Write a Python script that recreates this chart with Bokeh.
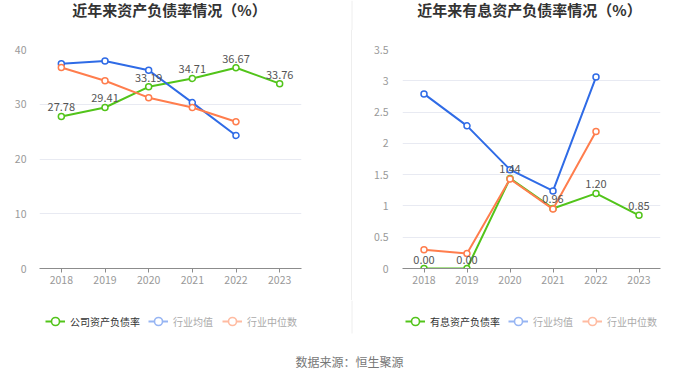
from bokeh.plotting import figure
from bokeh.models import (FactorRange, Range1d, FixedTicker, Legend, LegendItem,
                          ColumnDataSource, Spacer, Label)
from bokeh.layouts import row, column
from bokeh.embed import file_html
from bokeh.resources import INLINE
from bokeh.core.properties import value

FONT = "Noto Sans CJK SC"

years = ["2018", "2019", "2020", "2021", "2022", "2023"]
industry_years = ["2018", "2019", "2020", "2021", "2022"]

# chart 1: 资产负债率
asset_company = [27.78, 29.41, 33.19, 34.71, 36.67, 33.76]
asset_mean = [37.4, 37.9, 36.2, 30.3, 24.3]
asset_median = [36.7, 34.3, 31.2, 29.4, 26.8]
asset_yticks = [0, 10, 20, 30, 40]
asset_ylabels = ["0", "10", "20", "30", "40"]

# chart 2: 有息资产负债率
int_company = [0.00, 0.00, 1.44, 0.96, 1.20, 0.85]
int_mean = [2.79, 2.28, 1.58, 1.24, 3.06]
int_median = [0.30, 0.24, 1.43, 0.95, 2.19]
int_yticks = [0, 0.5, 1, 1.5, 2, 2.5, 3, 3.5]
int_ylabels = ["0", "0.5", "1", "1.5", "2", "2.5", "3", "3.5"]

titles = ["近年来资产负债率情况（%）", "近年来有息资产负债率情况（%）"]
company_names = ["公司资产负债率", "有息资产负债率"]
industry_names = ["行业均值", "行业中位数"]
source_text = "数据来源：恒生聚源"

GREEN = "#52c41a"
BLUE = "#2f6be6"
ORANGE = "#ff7d4d"
BLUE_FADE = "#97b5f3"
ORANGE_FADE = "#ffbba1"
DIVIDER = "#eeeeee"


def make_chart(company, mean, median, yticks, ylabels, width, min_left, min_right,
               label_standoff):
    p = figure(width=width, height=270, x_range=FactorRange(factors=years, range_padding=0),
               y_range=Range1d(yticks[0], yticks[-1]), output_backend="svg",
               toolbar_location=None, min_border_left=min_left, min_border_right=min_right,
               min_border_top=19, min_border_bottom=32)
    p.outline_line_color = None

    p.xgrid.grid_line_color = None
    p.ygrid.grid_line_color = "#e8eaf2"
    p.ygrid.ticker = FixedTicker(ticks=yticks)

    p.yaxis.ticker = FixedTicker(ticks=yticks)
    p.yaxis.major_label_overrides = {t: l for t, l in zip(yticks, ylabels)}
    p.yaxis.axis_line_color = None
    p.yaxis.major_tick_line_color = None
    p.yaxis.minor_tick_line_color = None
    p.yaxis.major_label_text_color = "#999999"
    p.yaxis.major_label_text_font = FONT
    p.yaxis.major_label_text_font_size = "10.5px"
    p.yaxis.major_label_standoff = label_standoff

    p.xaxis.axis_line_color = "#8c8c8c"
    p.xaxis.major_tick_line_color = "#8c8c8c"
    p.xaxis.major_tick_out = 4
    p.xaxis.major_tick_in = 0
    p.xaxis.major_label_text_color = "#999999"
    p.xaxis.major_label_text_font = FONT
    p.xaxis.major_label_text_font_size = "10.5px"
    p.xaxis.major_label_standoff = 3

    src_c = ColumnDataSource(dict(x=years, y=company, t=["%.2f" % v for v in company]))
    src_m = ColumnDataSource(dict(x=industry_years, y=mean))
    src_d = ColumnDataSource(dict(x=industry_years, y=median))

    for src, col in ((src_c, GREEN), (src_m, BLUE), (src_d, ORANGE)):
        p.line("x", "y", source=src, line_color=col, line_width=2)
        p.scatter("x", "y", source=src, marker="circle", size=6, fill_color="white",
                  line_color=col, line_width=1.5)

    p.text("x", "y", text="t", source=src_c, text_align="center", text_baseline="bottom",
           y_offset=-5, text_font=value(FONT), text_font_size="11px", text_color="#555555")
    return p


p1 = make_chart(asset_company, asset_mean, asset_median, asset_yticks, asset_ylabels,
                351, 39, 50, 7)
p2 = make_chart(int_company, int_mean, int_median, int_yticks, int_ylabels,
                348, 50, 40, 8)

# top strip with the two titles
p0 = figure(width=700, height=30, x_range=Range1d(0, 700), y_range=Range1d(0, 30),
            output_backend="svg", toolbar_location=None, min_border=0)
p0.axis.visible = False
p0.grid.visible = False
p0.outline_line_color = None
p0.segment(x0=[351.5], y0=[0], x1=[351.5], y1=[30], line_color=DIVIDER, line_width=1)
for tx, t in zip([169, 529], titles):
    p0.add_layout(Label(x=tx, y=21, text=t, text_align="center", text_baseline="middle",
                        text_font=FONT, text_font_size="15px", text_font_style="bold",
                        text_color="#333333"))

divider = Spacer(width=1, height=270, styles={"background-color": DIVIDER})

# bottom strip: legends + source
p3 = figure(width=700, height=78, x_range=Range1d(0, 700), y_range=Range1d(0, 78),
            output_backend="svg", toolbar_location=None, min_border=0)
p3.axis.visible = False
p3.grid.visible = False
p3.outline_line_color = None
p3.segment(x0=[351.5], y0=[45], x1=[351.5], y1=[78], line_color=DIVIDER, line_width=1)


def icon(col):
    # legend-only renderers: a single point kept outside the visible strip
    src = ColumnDataSource(dict(x=[-100], y=[-100]))
    l = p3.line("x", "y", source=src, line_color=col, line_width=2)
    s = p3.scatter("x", "y", source=src, marker="circle", fill_color="white",
                   line_color=col, line_width=1.6)
    return [l, s]


common = dict(orientation="horizontal", background_fill_alpha=0, border_line_alpha=0,
              padding=0, margin=0, glyph_width=20, glyph_height=20, label_standoff=5,
              label_text_font=FONT, label_text_font_size="10px", spacing=9,
              label_height=20, label_text_baseline="middle")
for x1, x2, name in ((45, 148, company_names[0]), (405, 508, company_names[1])):
    leg1 = Legend(items=[LegendItem(label=name, renderers=icon(GREEN))],
                  location=(x1, 47), label_text_color="#333333", **common)
    leg2 = Legend(items=[LegendItem(label=industry_names[0], renderers=icon(BLUE_FADE)),
                         LegendItem(label=industry_names[1], renderers=icon(ORANGE_FADE))],
                  location=(x2, 47), label_text_color="#aaaaaa", **common)
    p3.add_layout(leg1)
    p3.add_layout(leg2)

p3.add_layout(Label(x=349, y=17, text=source_text, text_align="center",
                    text_baseline="middle", text_font=FONT, text_font_size="12px",
                    text_color="#777777"))

layout = column(p0, row(p1, divider, p2), p3)
open("out.html", "w").write(file_html(layout, INLINE))
